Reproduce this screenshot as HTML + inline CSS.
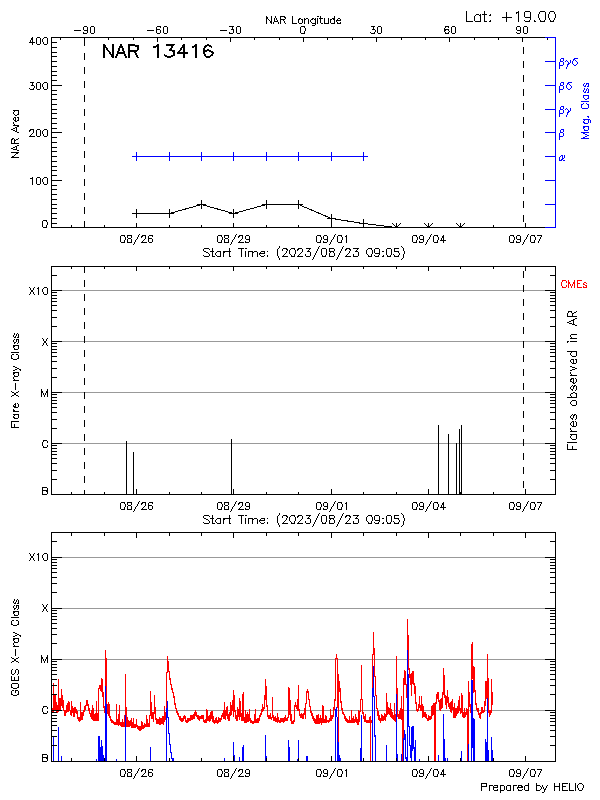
<!DOCTYPE html>
<html lang="en"><head><meta charset="utf-8"><title>NAR 13416</title>
<style>
html,body{margin:0;padding:0;background:#fff;}
body{width:600px;height:800px;overflow:hidden;font-family:"Liberation Sans",sans-serif;}
svg{display:block;shape-rendering:crispEdges;}
svg path,svg polyline{fill:none;stroke-width:1;}
svg text{fill:#000;fill-opacity:0;font-family:"Liberation Sans",sans-serif;}
</style></head><body>
<svg width="600" height="800" viewBox="0 0 600 800">
<rect width="600" height="800" fill="#fff"/>
<path d="M52 443.5H555M52 392.5H555M52 341.5H555M52 290.5H555M52 710.5H555M52 659.5H555M52 608.5H555M52 557.5H555" stroke="#999"/>
<path d="M52.5 708V713M53.5 683V712M54.5 694V711M55.5 694V711M56.5 702V713M57.5 705V713M58.5 679V712M59.5 698V711M60.5 698V711M61.5 689V706M62.5 695V708M63.5 700V711M64.5 710V716M65.5 710V716M66.5 705V713M67.5 703V712M68.5 701V712M69.5 702V711M70.5 710V715M71.5 701V716M72.5 706V713M73.5 708V717M74.5 707V717M75.5 707V713M76.5 709V714M77.5 711V719M78.5 717V721M79.5 717V722M80.5 702V721M81.5 712V720M82.5 712V720M83.5 710V716M84.5 706V712M85.5 705V710M86.5 700V706M87.5 700V706M88.5 704V711M89.5 708V714M90.5 713V717M91.5 710V719M92.5 705V720M93.5 708V721M94.5 714V721M95.5 713V721M96.5 701V721M97.5 713V721M98.5 688V721M99.5 685V689M100.5 685V691M101.5 678V692M102.5 679V697M103.5 692V708M104.5 706V713M105.5 650V713M106.5 658V714M107.5 704V714M108.5 702V716M109.5 704V718M110.5 716V721M111.5 719V723M112.5 720V723M113.5 721V724M114.5 722V725M115.5 722V725M116.5 704V725M117.5 719V725M118.5 714V726M119.5 705V725M120.5 722V726M121.5 722V727M122.5 719V727M123.5 722V727M124.5 715V727M125.5 674V727M126.5 707V727M127.5 717V727M128.5 720V727M129.5 721V727M130.5 720V726M131.5 718V728M132.5 722V728M133.5 718V728M134.5 724V728M135.5 724V728M136.5 719V727M137.5 725V729M138.5 726V730M139.5 726V731M140.5 726V731M141.5 721V730M142.5 722V729M143.5 725V729M144.5 723V728M145.5 724V727M146.5 715V727M147.5 719V727M148.5 723V727M149.5 715V727M150.5 691V716M151.5 702V719M152.5 712V719M153.5 712V722M154.5 695V714M155.5 707V720M156.5 718V724M157.5 719V724M158.5 719V724M159.5 717V725M160.5 718V725M161.5 718V724M162.5 716V724M163.5 716V725M164.5 706V722M165.5 712V720M166.5 672V718M167.5 656V673M168.5 661V672M169.5 671V680M170.5 678V685M171.5 684V690M172.5 688V693M173.5 692V698M174.5 696V705M175.5 703V709M176.5 708V713M177.5 711V715M178.5 713V717M179.5 716V720M180.5 716V721M181.5 718V722M182.5 718V722M183.5 716V721M184.5 715V719M185.5 716V722M186.5 720V723M187.5 718V723M188.5 718V722M189.5 718V721M190.5 715V721M191.5 715V720M192.5 715V720M193.5 714V719M194.5 712V719M195.5 710V716M196.5 712V717M197.5 715V719M198.5 715V720M199.5 716V721M200.5 716V719M201.5 715V719M202.5 715V719M203.5 715V722M204.5 720V723M205.5 719V723M206.5 709V723M207.5 710V721M208.5 716V721M209.5 715V722M210.5 712V721M211.5 711V719M212.5 711V722M213.5 716V723M214.5 720V724M215.5 718V723M216.5 717V723M217.5 720V724M218.5 717V723M219.5 718V722M220.5 718V722M221.5 715V720M222.5 713V717M223.5 710V719M224.5 702V719M225.5 710V720M226.5 707V716M227.5 706V719M228.5 714V721M229.5 712V721M230.5 702V716M231.5 705V715M232.5 700V711M233.5 690V717M234.5 695V712M235.5 710V719M236.5 715V721M237.5 707V721M238.5 709V717M239.5 698V720M240.5 701V717M241.5 713V721M242.5 694V721M243.5 692V721M244.5 717V723M245.5 710V723M246.5 714V723M247.5 712V722M248.5 714V722M249.5 709V721M250.5 718V723M251.5 720V723M252.5 721V724M253.5 721V724M254.5 714V723M255.5 709V723M256.5 719V723M257.5 718V723M258.5 718V723M259.5 715V721M260.5 713V717M261.5 709V715M262.5 704V712M263.5 707V711M264.5 695V709M265.5 679V700M266.5 686V707M267.5 705V717M268.5 715V719M269.5 715V719M270.5 713V719M271.5 717V720M272.5 697V718M273.5 715V721M274.5 717V721M275.5 716V722M276.5 718V722M277.5 713V723M278.5 717V722M279.5 720V723M280.5 718V723M281.5 718V722M282.5 718V722M283.5 718V723M284.5 717V722M285.5 715V721M286.5 718V721M287.5 717V721M288.5 687V718M289.5 688V715M290.5 700V721M291.5 714V724M292.5 721V724M293.5 720V724M294.5 705V722M295.5 702V707M296.5 705V709M297.5 699V711M298.5 685V711M299.5 709V716M300.5 714V718M301.5 713V718M302.5 714V719M303.5 713V719M304.5 708V715M305.5 703V719M306.5 691V704M307.5 689V693M308.5 691V700M309.5 699V707M310.5 706V713M311.5 711V716M312.5 713V719M313.5 716V721M314.5 718V723M315.5 719V724M316.5 715V724M317.5 715V724M318.5 714V724M319.5 718V724M320.5 715V723M321.5 718V725M322.5 705V723M323.5 706V723M324.5 719V723M325.5 715V723M326.5 716V723M327.5 720V722M328.5 720V723M329.5 718V722M330.5 709V721M331.5 715V721M332.5 715V719M333.5 707V717M334.5 699V710M335.5 658V701M336.5 654V659M337.5 658V708M338.5 674V743M339.5 681V692M340.5 688V703M341.5 701V710M342.5 708V714M343.5 712V715M344.5 714V719M345.5 716V721M346.5 718V722M347.5 719V723M348.5 720V723M349.5 716V723M350.5 720V723M351.5 710V723M352.5 718V723M353.5 716V723M354.5 719V723M355.5 714V722M356.5 717V723M357.5 719V725M358.5 710V725M359.5 711V722M360.5 699V712M361.5 665V700M362.5 699V714M363.5 712V719M364.5 716V722M365.5 714V722M366.5 720V723M367.5 720V723M368.5 720V723M369.5 717V723M370.5 716V762M371.5 720V723M372.5 654V721M373.5 632V655M374.5 648V677M375.5 676V696M376.5 695V709M377.5 708V716M378.5 711V720M379.5 715V721M380.5 718V723M381.5 714V721M382.5 715V721M383.5 716V721M384.5 713V720M385.5 714V721M386.5 693V717M387.5 702V715M388.5 707V714M389.5 708V715M390.5 703V717M391.5 709V718M392.5 712V719M393.5 715V720M394.5 703V721M395.5 714V722M396.5 656V717M397.5 688V717M398.5 714V719M399.5 711V719M400.5 708V719M401.5 696V720M402.5 709V762M403.5 678V762M404.5 670V685M405.5 671V685M406.5 684V698M407.5 619V685M408.5 635V670M409.5 668V678M410.5 674V685M411.5 673V696M412.5 671V684M413.5 671V685M414.5 683V694M415.5 686V704M416.5 702V711M417.5 709V712M418.5 704V711M419.5 696V708M420.5 705V711M421.5 696V711M422.5 704V718M423.5 706V717M424.5 712V717M425.5 712V718M426.5 714V719M427.5 718V721M428.5 715V721M429.5 716V720M430.5 716V720M431.5 706V719M432.5 705V716M433.5 703V715M434.5 703V762M435.5 702V762M436.5 694V704M437.5 692V699M438.5 692V702M439.5 700V710M440.5 699V711M441.5 698V709M442.5 692V708M443.5 668V695M444.5 675V698M445.5 695V705M446.5 696V709M447.5 690V703M448.5 697V707M449.5 703V709M450.5 702V712M451.5 701V713M452.5 699V710M453.5 707V718M454.5 703V718M455.5 708V718M456.5 708V716M457.5 706V714M458.5 700V713M459.5 696V711M460.5 708V714M461.5 693V713M462.5 695V717M463.5 712V718M464.5 708V718M465.5 712V717M466.5 708V715M467.5 709V762M468.5 681V762M469.5 692V707M470.5 704V713M471.5 644V705M472.5 642V679M473.5 666V693M474.5 667V692M475.5 690V705M476.5 703V710M477.5 708V712M478.5 708V715M479.5 713V718M480.5 712V719M481.5 707V714M482.5 707V713M483.5 710V713M484.5 701V712M485.5 681V706M486.5 681V699M487.5 654V699M488.5 678V713M489.5 710V717M490.5 710V715M491.5 679V713M492.5 692V705" stroke="#f00"/>
<path d="M53.5 736V762M58.5 727V762M61.5 756V762M96.5 759V762M98.5 736V762M99.5 736V762M100.5 747V762M101.5 740V762M102.5 746V762M103.5 755V762M105.5 686V762M106.5 704V762M116.5 759V762M125.5 715V762M150.5 747V762M166.5 708V762M167.5 701V718M168.5 717V734M169.5 733V745M170.5 744V753M171.5 752V759M172.5 758V762M173.5 758V762M224.5 758V762M233.5 742V762M234.5 755V762M239.5 757V762M242.5 747V762M243.5 745V762M265.5 735V762M266.5 756V762M288.5 740V762M289.5 747V762M297.5 759V762M298.5 740V762M306.5 756V762M307.5 756V762M335.5 709V762M336.5 707V717M337.5 717V762M338.5 742V762M339.5 755V762M340.5 758V762M360.5 748V762M361.5 715V762M372.5 688V762M373.5 666V697M374.5 696V737M375.5 735V762M386.5 745V762M396.5 694V762M397.5 754V762M401.5 754V762M403.5 738V762M404.5 730V740M405.5 734V759M406.5 757V762M407.5 650V762M408.5 674V727M409.5 726V746M410.5 745V758M411.5 727V762M412.5 726V751M413.5 726V749M414.5 747V762M415.5 740V762M419.5 759V762M438.5 755V762M443.5 714V762M444.5 739V762M445.5 758V762M447.5 758V762M461.5 751V762M468.5 744V762M471.5 680V762M472.5 680V748M473.5 718V762M474.5 719V762M485.5 739V762M486.5 742V762M487.5 698V762M488.5 750V762M491.5 737V762M492.5 750V762" stroke="#00f"/>
<path d="M51 37.5H556M51 227.5H556M51.5 37V228M51 227.5H62M51 223.5H57M51 218.5H57M51 213.5H57M51 208.5H57M51 204.5H57M51 199.5H57M51 194.5H57M51 189.5H57M51 185.5H57M51 180.5H62M51 175.5H57M51 170.5H57M51 166.5H57M51 161.5H57M51 156.5H57M51 151.5H57M51 147.5H57M51 142.5H57M51 137.5H57M51 132.5H62M51 128.5H57M51 123.5H57M51 118.5H57M51 113.5H57M51 109.5H57M51 104.5H57M51 99.5H57M51 94.5H57M51 90.5H57M51 85.5H62M51 80.5H57M51 75.5H57M51 71.5H57M51 66.5H57M51 61.5H57M51 56.5H57M51 52.5H57M51 47.5H57M51 42.5H57M51 37.5H62M60.5 37V40M84.5 37V42M108.5 37V40M133.5 37V40M157.5 37V42M181.5 37V40M206.5 37V40M230.5 37V42M254.5 37V40M279.5 37V40M303.5 37V42M327.5 37V40M352.5 37V40M376.5 37V42M401.5 37V40M425.5 37V40M449.5 37V42M474.5 37V40M498.5 37V40M522.5 37V42M547.5 37V40M71.5 225V228M104.5 225V228M136.5 223V228M169.5 225V228M201.5 225V228M233.5 223V228M266.5 225V228M298.5 225V228M331.5 223V228M363.5 225V228M396.5 225V228M428.5 223V228M460.5 225V228M493.5 225V228M525.5 223V228M84.5 39V46M84.5 53V60M84.5 67V74M84.5 81V88M84.5 95V102M84.5 109V116M84.5 123V130M84.5 137V144M84.5 151V158M84.5 165V172M84.5 179V186M84.5 193V200M84.5 207V214M84.5 221V228M523.5 47V54M523.5 61V68M523.5 75V82M523.5 89V96M523.5 103V110M523.5 117V124M523.5 131V138M523.5 145V152M523.5 159V166M523.5 173V180M523.5 187V194M523.5 201V208M523.5 215V222M132 213.5H141M136.5 209V218M165 213.5H174M169.5 209V218M197 204.5H206M201.5 200V209M229 213.5H238M233.5 209V218M262 204.5H271M266.5 200V209M294 204.5H303M298.5 200V209M327 218.5H336M331.5 214V223M359 223.5H368M363.5 219V228M396.5 223V228M395 226.5H396M397 226.5H398M394 225.5H395M398 225.5H399M393 224.5H394M399 224.5H400M392 223.5H393M400 223.5H401M395 226.5H398M428.5 223V228M427 226.5H428M429 226.5H430M426 225.5H427M430 225.5H431M425 224.5H426M431 224.5H432M424 223.5H425M432 223.5H433M427 226.5H430M460.5 223V228M459 226.5H460M461 226.5H462M458 225.5H459M462 225.5H463M457 224.5H458M463 224.5H464M456 223.5H457M464 223.5H465M459 226.5H462M51 266.5H556M51 494.5H556M51.5 266V495M555.5 266V495M51 494.5H62M545 494.5H556M51 479.5H57M550 479.5H556M51 470.5H57M550 470.5H556M51 463.5H57M550 463.5H556M51 458.5H57M550 458.5H556M51 454.5H57M550 454.5H556M51 451.5H57M550 451.5H556M51 448.5H57M550 448.5H556M51 445.5H57M550 445.5H556M51 443.5H62M545 443.5H556M51 428.5H57M550 428.5H556M51 419.5H57M550 419.5H556M51 412.5H57M550 412.5H556M51 407.5H57M550 407.5H556M51 403.5H57M550 403.5H556M51 400.5H57M550 400.5H556M51 397.5H57M550 397.5H556M51 394.5H57M550 394.5H556M51 392.5H62M545 392.5H556M51 377.5H57M550 377.5H556M51 368.5H57M550 368.5H556M51 361.5H57M550 361.5H556M51 356.5H57M550 356.5H556M51 352.5H57M550 352.5H556M51 349.5H57M550 349.5H556M51 346.5H57M550 346.5H556M51 343.5H57M550 343.5H556M51 341.5H62M545 341.5H556M51 326.5H57M550 326.5H556M51 317.5H57M550 317.5H556M51 310.5H57M550 310.5H556M51 305.5H57M550 305.5H556M51 301.5H57M550 301.5H556M51 298.5H57M550 298.5H556M51 295.5H57M550 295.5H556M51 292.5H57M550 292.5H556M51 290.5H62M545 290.5H556M51 275.5H57M550 275.5H556M51 266.5H57M550 266.5H556M71.5 492V495M71.5 266V269M104.5 492V495M104.5 266V269M136.5 489V495M136.5 266V271M169.5 492V495M169.5 266V269M201.5 492V495M201.5 266V269M233.5 489V495M233.5 266V271M266.5 492V495M266.5 266V269M298.5 492V495M298.5 266V269M331.5 489V495M331.5 266V271M363.5 492V495M363.5 266V269M396.5 492V495M396.5 266V269M428.5 489V495M428.5 266V271M460.5 492V495M460.5 266V269M493.5 492V495M493.5 266V269M525.5 489V495M525.5 266V271M84.5 266V273M84.5 280V287M84.5 294V301M84.5 308V315M84.5 322V329M84.5 336V343M84.5 350V357M84.5 364V371M84.5 378V385M84.5 392V399M84.5 406V413M84.5 420V427M84.5 434V441M84.5 448V455M84.5 462V469M84.5 476V483M84.5 490V495M523.5 271V278M523.5 285V292M523.5 299V306M523.5 313V320M523.5 327V334M523.5 341V348M523.5 355V362M523.5 369V376M523.5 383V390M523.5 397V404M523.5 411V418M523.5 425V432M523.5 439V446M523.5 453V460M523.5 467V474M523.5 481V488M126.5 441V495M133.5 452V495M231.5 439V495M438.5 425V495M448.5 434V495M456.5 443V495M459.5 429V495M461.5 425V495M460.5 492V495M51 532.5H556M51 761.5H556M51.5 532V762M555.5 532V762M51 761.5H62M545 761.5H556M51 745.5H57M550 745.5H556M51 736.5H57M550 736.5H556M51 730.5H57M550 730.5H556M51 725.5H57M550 725.5H556M51 721.5H57M550 721.5H556M51 718.5H57M550 718.5H556M51 715.5H57M550 715.5H556M51 712.5H57M550 712.5H556M51 710.5H62M545 710.5H556M51 694.5H57M550 694.5H556M51 685.5H57M550 685.5H556M51 679.5H57M550 679.5H556M51 674.5H57M550 674.5H556M51 670.5H57M550 670.5H556M51 667.5H57M550 667.5H556M51 664.5H57M550 664.5H556M51 661.5H57M550 661.5H556M51 659.5H62M545 659.5H556M51 643.5H57M550 643.5H556M51 634.5H57M550 634.5H556M51 628.5H57M550 628.5H556M51 623.5H57M550 623.5H556M51 619.5H57M550 619.5H556M51 616.5H57M550 616.5H556M51 613.5H57M550 613.5H556M51 610.5H57M550 610.5H556M51 608.5H62M545 608.5H556M51 592.5H57M550 592.5H556M51 583.5H57M550 583.5H556M51 577.5H57M550 577.5H556M51 572.5H57M550 572.5H556M51 568.5H57M550 568.5H556M51 565.5H57M550 565.5H556M51 562.5H57M550 562.5H556M51 559.5H57M550 559.5H556M51 557.5H62M545 557.5H556M51 541.5H57M550 541.5H556M51 532.5H57M550 532.5H556M71.5 758V762M71.5 532V536M104.5 758V762M104.5 532V536M136.5 756V762M136.5 532V538M169.5 758V762M169.5 532V536M201.5 758V762M201.5 532V536M233.5 756V762M233.5 532V538M266.5 758V762M266.5 532V536M298.5 758V762M298.5 532V536M331.5 756V762M331.5 532V538M363.5 758V762M363.5 532V536M396.5 758V762M396.5 532V536M428.5 756V762M428.5 532V538M460.5 758V762M460.5 532V536M493.5 758V762M493.5 532V536M525.5 756V762M525.5 532V538" stroke="#000"/>
<polyline fill="none" stroke="#000" points="136.5,213.5 169.5,213.5 201.5,204.5 233.5,213.5 266.5,204.5 298.5,204.5 331.5,218.5 363.5,223.5 396.5,227.5 428.5,227.5 460.5,227.5"/>
<path d="M555.5 37V228M545 227.5H556M545 204.5H556M545 180.5H556M545 156.5H556M545 132.5H556M545 109.5H556M545 85.5H556M545 61.5H556M545 37.5H556M132 156.5H368M136.5 152V161M169.5 152V161M201.5 152V161M233.5 152V161M266.5 152V161M298.5 152V161M331.5 152V161M363.5 152V161" stroke="#00f"/>
<path d="M84 26.5H87M91 26.5H94M83 27.5H84M87 27.5H88M90 27.5H91M94 27.5H95M83 28.5H84M87 28.5H88M90 28.5H91M94 28.5H95M83 29.5H84M87 29.5H88M90 29.5H91M94 29.5H95M74 30.5H81M84 30.5H88M90 30.5H91M94 30.5H95M87 31.5H88M90 31.5H91M94 31.5H95M83 32.5H84M87 32.5H88M90 32.5H91M94 32.5H95M83 33.5H87M91 33.5H94M157 26.5H161M164 26.5H167M156 27.5H157M160 27.5H161M163 27.5H164M167 27.5H168M156 28.5H157M163 28.5H164M167 28.5H168M156 29.5H160M163 29.5H164M167 29.5H168M147 30.5H154M156 30.5H157M160 30.5H161M163 30.5H164M167 30.5H168M156 31.5H157M160 31.5H161M163 31.5H164M167 31.5H168M156 32.5H157M160 32.5H161M163 32.5H164M167 32.5H168M157 33.5H160M164 33.5H167M229 26.5H234M237 26.5H240M232 27.5H233M236 27.5H237M240 27.5H241M232 28.5H233M236 28.5H237M240 28.5H241M231 29.5H234M236 29.5H237M240 29.5H241M220 30.5H227M233 30.5H234M236 30.5H237M240 30.5H241M233 31.5H234M236 31.5H237M240 31.5H241M229 32.5H230M233 32.5H234M236 32.5H237M240 32.5H241M229 33.5H233M237 33.5H240M301 26.5H305M300 27.5H301M304 27.5H305M300 28.5H301M305 28.5H306M300 29.5H301M305 29.5H306M300 30.5H301M305 30.5H306M300 31.5H301M304 31.5H305M300 32.5H301M304 32.5H305M301 33.5H305M371 26.5H375M378 26.5H381M373 27.5H374M377 27.5H378M381 27.5H382M373 28.5H374M377 28.5H378M381 28.5H382M372 29.5H375M377 29.5H378M381 29.5H382M375 30.5H376M377 30.5H378M381 30.5H382M375 31.5H376M377 31.5H378M381 31.5H382M370 32.5H371M374 32.5H375M377 32.5H378M381 32.5H382M371 33.5H375M378 33.5H381M445 26.5H449M452 26.5H455M445 27.5H446M448 27.5H449M451 27.5H452M455 27.5H456M444 28.5H445M451 28.5H452M455 28.5H456M444 29.5H449M451 29.5H452M455 29.5H456M444 30.5H446M448 30.5H449M451 30.5H452M455 30.5H456M444 31.5H445M449 31.5H450M451 31.5H452M455 31.5H456M445 32.5H446M448 32.5H449M451 32.5H452M455 32.5H456M445 33.5H449M452 33.5H455M517 26.5H520M524 26.5H527M516 27.5H517M520 27.5H521M523 27.5H524M527 27.5H528M516 28.5H517M520 28.5H521M523 28.5H524M527 28.5H528M516 29.5H517M520 29.5H521M523 29.5H524M527 29.5H528M517 30.5H521M523 30.5H524M527 30.5H528M520 31.5H521M523 31.5H524M527 31.5H528M516 32.5H517M520 32.5H521M523 32.5H524M527 32.5H528M517 33.5H520M524 33.5H527M43 220.5H47M42 221.5H43M46 221.5H47M42 222.5H43M47 222.5H48M42 223.5H43M47 223.5H48M42 224.5H43M47 224.5H48M42 225.5H43M46 225.5H47M42 226.5H43M46 226.5H47M43 227.5H47M32 177.5H33M37 177.5H40M44 177.5H47M30 178.5H33M36 178.5H37M40 178.5H41M43 178.5H44M47 178.5H48M32 179.5H33M36 179.5H37M40 179.5H41M42 179.5H43M47 179.5H48M32 180.5H33M36 180.5H37M40 180.5H41M42 180.5H43M47 180.5H48M32 181.5H33M36 181.5H37M40 181.5H41M42 181.5H43M47 181.5H48M32 182.5H33M36 182.5H37M40 182.5H41M43 182.5H44M47 182.5H48M32 183.5H33M36 183.5H37M40 183.5H41M43 183.5H44M47 183.5H48M32 184.5H33M37 184.5H40M44 184.5H47M30 129.5H34M37 129.5H40M44 129.5H47M29 130.5H31M33 130.5H34M36 130.5H37M40 130.5H41M43 130.5H44M47 130.5H48M29 131.5H30M33 131.5H34M36 131.5H37M40 131.5H41M42 131.5H43M47 131.5H48M33 132.5H34M36 132.5H37M40 132.5H41M42 132.5H43M47 132.5H48M32 133.5H33M36 133.5H37M40 133.5H41M42 133.5H43M47 133.5H48M31 134.5H32M36 134.5H37M40 134.5H41M43 134.5H44M47 134.5H48M30 135.5H31M36 135.5H37M40 135.5H41M43 135.5H44M47 135.5H48M29 136.5H35M37 136.5H40M44 136.5H47M30 82.5H34M37 82.5H40M44 82.5H47M32 83.5H33M36 83.5H37M40 83.5H41M43 83.5H44M47 83.5H48M32 84.5H33M36 84.5H37M40 84.5H41M42 84.5H43M47 84.5H48M31 85.5H34M36 85.5H37M40 85.5H41M42 85.5H43M47 85.5H48M34 86.5H35M36 86.5H37M40 86.5H41M42 86.5H43M47 86.5H48M34 87.5H35M36 87.5H37M40 87.5H41M43 87.5H44M47 87.5H48M29 88.5H30M33 88.5H34M36 88.5H37M40 88.5H41M43 88.5H44M47 88.5H48M30 89.5H34M37 89.5H40M44 89.5H47M32 37.5H33M37 37.5H40M44 37.5H47M31 38.5H33M36 38.5H37M40 38.5H41M43 38.5H44M47 38.5H48M31 39.5H33M36 39.5H37M40 39.5H41M42 39.5H43M47 39.5H48M30 40.5H31M32 40.5H33M36 40.5H37M40 40.5H41M42 40.5H43M47 40.5H48M30 41.5H31M32 41.5H33M36 41.5H37M40 41.5H41M42 41.5H43M47 41.5H48M29 42.5H35M36 42.5H37M40 42.5H41M43 42.5H44M47 42.5H48M32 43.5H33M36 43.5H37M40 43.5H41M43 43.5H44M47 43.5H48M32 44.5H33M37 44.5H40M44 44.5H47M266 16.5H267M271 16.5H272M275 16.5H276M280 16.5H285M292 16.5H293M317 16.5H319M320 16.5H321M334 16.5H335M266 17.5H268M271 17.5H272M275 17.5H276M280 17.5H281M284 17.5H286M292 17.5H293M320 17.5H321M334 17.5H335M266 18.5H268M271 18.5H272M274 18.5H275M276 18.5H277M280 18.5H281M285 18.5H286M292 18.5H293M299 18.5H301M304 18.5H305M306 18.5H308M312 18.5H314M315 18.5H316M317 18.5H318M319 18.5H323M324 18.5H325M328 18.5H329M332 18.5H335M338 18.5H340M266 19.5H267M268 19.5H269M271 19.5H272M274 19.5H275M276 19.5H277M280 19.5H285M292 19.5H293M298 19.5H300M301 19.5H303M304 19.5H306M308 19.5H309M311 19.5H313M314 19.5H316M317 19.5H318M320 19.5H321M324 19.5H325M328 19.5H329M330 19.5H332M333 19.5H335M337 19.5H338M340 19.5H341M266 20.5H267M269 20.5H270M271 20.5H272M274 20.5H275M277 20.5H278M280 20.5H281M283 20.5H284M292 20.5H293M298 20.5H299M302 20.5H303M304 20.5H305M308 20.5H309M310 20.5H311M315 20.5H316M317 20.5H318M320 20.5H321M324 20.5H325M328 20.5H329M330 20.5H331M334 20.5H335M336 20.5H341M266 21.5H267M270 21.5H272M274 21.5H278M280 21.5H281M284 21.5H285M292 21.5H293M298 21.5H299M302 21.5H303M304 21.5H305M308 21.5H309M310 21.5H311M315 21.5H316M317 21.5H318M320 21.5H321M324 21.5H325M328 21.5H329M330 21.5H331M334 21.5H335M336 21.5H337M266 22.5H267M270 22.5H272M273 22.5H274M278 22.5H279M280 22.5H281M284 22.5H285M292 22.5H293M298 22.5H299M302 22.5H303M304 22.5H305M308 22.5H309M311 22.5H312M315 22.5H316M317 22.5H318M320 22.5H321M324 22.5H325M328 22.5H329M330 22.5H331M334 22.5H335M337 22.5H338M340 22.5H341M266 23.5H267M271 23.5H272M273 23.5H274M278 23.5H279M280 23.5H281M285 23.5H286M292 23.5H297M299 23.5H302M304 23.5H305M308 23.5H309M312 23.5H316M317 23.5H318M321 23.5H323M324 23.5H329M331 23.5H335M337 23.5H341M315 24.5H316M312 25.5H315M466 11.5H467M484 11.5H485M518 11.5H519M525 11.5H530M540 11.5H545M550 11.5H554M466 12.5H467M484 12.5H485M506 12.5H507M516 12.5H519M524 12.5H525M530 12.5H531M539 12.5H540M545 12.5H546M549 12.5H550M554 12.5H555M466 13.5H467M484 13.5H485M506 13.5H507M516 13.5H517M518 13.5H519M524 13.5H525M530 13.5H531M539 13.5H540M545 13.5H546M549 13.5H550M554 13.5H555M466 14.5H467M476 14.5H479M480 14.5H481M482 14.5H487M490 14.5H491M506 14.5H507M518 14.5H519M524 14.5H525M530 14.5H531M538 14.5H539M545 14.5H546M548 14.5H549M555 14.5H556M466 15.5H467M475 15.5H476M479 15.5H481M484 15.5H485M489 15.5H491M506 15.5H507M518 15.5H519M524 15.5H525M530 15.5H531M538 15.5H539M545 15.5H546M548 15.5H549M555 15.5H556M466 16.5H467M474 16.5H475M480 16.5H481M484 16.5H485M506 16.5H507M518 16.5H519M524 16.5H525M530 16.5H531M538 16.5H539M545 16.5H546M548 16.5H549M555 16.5H556M466 17.5H467M474 17.5H475M480 17.5H481M484 17.5H485M502 17.5H512M518 17.5H519M525 17.5H531M538 17.5H539M545 17.5H546M548 17.5H549M555 17.5H556M466 18.5H467M474 18.5H475M480 18.5H481M484 18.5H485M506 18.5H507M518 18.5H519M530 18.5H531M539 18.5H540M545 18.5H546M549 18.5H550M554 18.5H555M466 19.5H467M474 19.5H475M480 19.5H481M484 19.5H485M506 19.5H507M518 19.5H519M530 19.5H531M539 19.5H540M545 19.5H546M549 19.5H550M554 19.5H555M466 20.5H467M474 20.5H475M480 20.5H481M484 20.5H485M490 20.5H491M506 20.5H507M518 20.5H519M524 20.5H525M529 20.5H530M534 20.5H535M540 20.5H541M544 20.5H545M550 20.5H551M553 20.5H554M466 21.5H473M475 21.5H481M484 21.5H487M489 21.5H491M506 21.5H507M518 21.5H519M525 21.5H530M534 21.5H536M540 21.5H545M550 21.5H554M103 44.5H105M112 44.5H114M120 44.5H122M128 44.5H135M157 44.5H159M166 44.5H175M183 44.5H185M195 44.5H197M207 44.5H209M103 45.5H106M112 45.5H114M120 45.5H122M128 45.5H139M156 45.5H159M166 45.5H174M182 45.5H185M194 45.5H197M205 45.5H211M103 46.5H106M112 46.5H114M119 46.5H123M128 46.5H130M135 46.5H139M153 46.5H159M171 46.5H173M182 46.5H185M192 46.5H197M204 46.5H207M209 46.5H212M103 47.5H107M112 47.5H114M119 47.5H123M128 47.5H130M137 47.5H139M153 47.5H156M157 47.5H159M171 47.5H173M181 47.5H185M192 47.5H194M195 47.5H197M204 47.5H206M211 47.5H212M103 48.5H105M106 48.5H108M112 48.5H114M118 48.5H120M122 48.5H124M128 48.5H130M137 48.5H139M157 48.5H159M170 48.5H172M180 48.5H182M183 48.5H185M195 48.5H197M203 48.5H205M103 49.5H105M106 49.5H108M112 49.5H114M118 49.5H120M122 49.5H124M128 49.5H130M137 49.5H139M157 49.5H159M169 49.5H172M180 49.5H182M183 49.5H185M195 49.5H197M203 49.5H205M207 49.5H209M103 50.5H105M107 50.5H109M112 50.5H114M118 50.5H120M122 50.5H124M128 50.5H138M157 50.5H159M169 50.5H175M179 50.5H181M183 50.5H185M195 50.5H197M203 50.5H211M103 51.5H105M108 51.5H110M112 51.5H114M117 51.5H119M123 51.5H125M128 51.5H137M157 51.5H159M172 51.5H175M178 51.5H180M183 51.5H185M195 51.5H197M203 51.5H207M209 51.5H213M103 52.5H105M109 52.5H111M112 52.5H114M117 52.5H125M128 52.5H130M134 52.5H136M157 52.5H159M173 52.5H175M177 52.5H188M195 52.5H197M203 52.5H205M211 52.5H214M103 53.5H105M109 53.5H111M112 53.5H114M117 53.5H125M128 53.5H130M135 53.5H137M157 53.5H159M173 53.5H175M177 53.5H188M195 53.5H197M203 53.5H205M212 53.5H214M103 54.5H105M110 54.5H114M116 54.5H118M124 54.5H126M128 54.5H130M135 54.5H137M157 54.5H159M164 54.5H165M173 54.5H175M183 54.5H185M195 54.5H197M204 54.5H206M211 54.5H213M103 55.5H105M111 55.5H114M116 55.5H118M124 55.5H126M128 55.5H130M136 55.5H138M157 55.5H159M164 55.5H167M171 55.5H175M183 55.5H185M195 55.5H197M204 55.5H206M210 55.5H213M103 56.5H105M111 56.5H114M115 56.5H117M125 56.5H127M128 56.5H130M136 56.5H138M157 56.5H159M165 56.5H173M183 56.5H185M195 56.5H197M205 56.5H211M103 57.5H105M112 57.5H114M115 57.5H117M125 57.5H127M128 57.5H130M137 57.5H139M157 57.5H159M167 57.5H171M183 57.5H185M195 57.5H197M206 57.5H210M13 110.5H19M14 111.5H15M18 111.5H19M13 112.5H14M18 112.5H19M13 113.5H14M18 113.5H19M14 114.5H15M17 114.5H19M15 115.5H17M14 117.5H16M17 117.5H19M13 118.5H14M15 118.5H16M18 118.5H19M13 119.5H14M15 119.5H16M18 119.5H19M14 120.5H16M17 120.5H19M15 121.5H17M13 122.5H14M13 123.5H14M14 124.5H15M13 125.5H19M17 126.5H19M15 127.5H17M13 128.5H15M16 128.5H17M11 129.5H13M16 129.5H17M13 130.5H15M16 130.5H17M15 131.5H17M17 132.5H19M12 138.5H14M18 138.5H19M11 139.5H13M14 139.5H15M16 139.5H18M11 140.5H12M14 140.5H16M11 141.5H12M14 141.5H15M11 142.5H12M14 142.5H15M11 143.5H19M17 145.5H19M15 146.5H17M13 147.5H15M16 147.5H17M11 148.5H13M16 148.5H17M13 149.5H17M17 150.5H19M11 152.5H19M16 153.5H18M15 154.5H16M14 155.5H15M12 156.5H14M11 157.5H19M139 234.5H140M121 235.5H125M127 235.5H132M138 235.5H139M142 235.5H146M149 235.5H153M120 236.5H121M124 236.5H125M127 236.5H128M131 236.5H132M138 236.5H139M141 236.5H143M145 236.5H146M148 236.5H149M152 236.5H153M120 237.5H121M125 237.5H126M127 237.5H128M131 237.5H132M137 237.5H138M141 237.5H142M145 237.5H146M148 237.5H149M120 238.5H121M125 238.5H126M128 238.5H131M137 238.5H138M145 238.5H146M148 238.5H152M120 239.5H121M125 239.5H126M127 239.5H128M131 239.5H132M136 239.5H137M144 239.5H145M148 239.5H149M152 239.5H153M120 240.5H121M124 240.5H125M127 240.5H128M131 240.5H132M135 240.5H136M143 240.5H144M148 240.5H149M152 240.5H153M120 241.5H121M124 241.5H125M127 241.5H128M131 241.5H132M135 241.5H136M142 241.5H143M148 241.5H149M152 241.5H153M121 242.5H125M127 242.5H132M134 242.5H135M141 242.5H147M149 242.5H152M134 243.5H135M133 244.5H134M236 234.5H237M218 235.5H222M224 235.5H229M235 235.5H236M239 235.5H243M246 235.5H249M217 236.5H218M221 236.5H222M224 236.5H225M228 236.5H229M235 236.5H236M238 236.5H240M242 236.5H243M245 236.5H246M249 236.5H250M217 237.5H218M222 237.5H223M224 237.5H225M228 237.5H229M234 237.5H235M238 237.5H239M242 237.5H243M245 237.5H246M249 237.5H250M217 238.5H218M222 238.5H223M225 238.5H228M234 238.5H235M242 238.5H243M245 238.5H246M249 238.5H250M217 239.5H218M222 239.5H223M224 239.5H225M228 239.5H229M233 239.5H234M241 239.5H242M246 239.5H250M217 240.5H218M221 240.5H222M224 240.5H225M228 240.5H229M232 240.5H233M240 240.5H241M249 240.5H250M217 241.5H218M221 241.5H222M224 241.5H225M228 241.5H229M232 241.5H233M239 241.5H240M245 241.5H246M249 241.5H250M218 242.5H222M224 242.5H229M231 242.5H232M238 242.5H244M245 242.5H249M231 243.5H232M230 244.5H231M335 234.5H336M317 235.5H321M324 235.5H327M334 235.5H335M338 235.5H342M346 235.5H347M316 236.5H317M320 236.5H321M323 236.5H324M327 236.5H328M334 236.5H335M337 236.5H338M341 236.5H342M345 236.5H347M316 237.5H317M321 237.5H322M323 237.5H324M327 237.5H328M333 237.5H334M337 237.5H338M342 237.5H343M346 237.5H347M316 238.5H317M321 238.5H322M323 238.5H324M327 238.5H328M333 238.5H334M337 238.5H338M342 238.5H343M346 238.5H347M316 239.5H317M321 239.5H322M324 239.5H328M332 239.5H333M337 239.5H338M342 239.5H343M346 239.5H347M316 240.5H317M320 240.5H321M327 240.5H328M331 240.5H332M337 240.5H338M341 240.5H342M346 240.5H347M316 241.5H317M320 241.5H321M323 241.5H324M327 241.5H328M331 241.5H332M337 241.5H338M341 241.5H342M346 241.5H347M317 242.5H321M323 242.5H327M330 242.5H331M338 242.5H342M346 242.5H347M330 243.5H331M329 244.5H330M431 234.5H432M413 235.5H417M420 235.5H423M430 235.5H431M434 235.5H438M443 235.5H444M412 236.5H413M416 236.5H417M419 236.5H420M423 236.5H424M430 236.5H431M433 236.5H434M437 236.5H438M442 236.5H444M412 237.5H413M417 237.5H418M419 237.5H420M423 237.5H424M429 237.5H430M433 237.5H434M438 237.5H439M442 237.5H444M412 238.5H413M417 238.5H418M419 238.5H420M423 238.5H424M429 238.5H430M433 238.5H434M438 238.5H439M441 238.5H442M443 238.5H444M412 239.5H413M417 239.5H418M420 239.5H424M428 239.5H429M433 239.5H434M438 239.5H439M441 239.5H442M443 239.5H444M412 240.5H413M416 240.5H417M423 240.5H424M427 240.5H428M433 240.5H434M437 240.5H438M440 240.5H446M412 241.5H413M416 241.5H417M419 241.5H420M423 241.5H424M427 241.5H428M433 241.5H434M437 241.5H438M443 241.5H444M413 242.5H417M419 242.5H423M426 242.5H427M434 242.5H438M443 242.5H444M426 243.5H427M425 244.5H426M528 234.5H529M510 235.5H514M517 235.5H520M527 235.5H528M531 235.5H535M537 235.5H542M509 236.5H510M513 236.5H514M516 236.5H517M520 236.5H521M527 236.5H528M530 236.5H531M534 236.5H535M541 236.5H542M509 237.5H510M514 237.5H515M516 237.5H517M520 237.5H521M526 237.5H527M530 237.5H531M535 237.5H536M540 237.5H541M509 238.5H510M514 238.5H515M516 238.5H517M520 238.5H521M526 238.5H527M530 238.5H531M535 238.5H536M540 238.5H541M509 239.5H510M514 239.5H515M517 239.5H521M525 239.5H526M530 239.5H531M535 239.5H536M539 239.5H540M509 240.5H510M513 240.5H514M520 240.5H521M524 240.5H525M530 240.5H531M534 240.5H535M539 240.5H540M509 241.5H510M513 241.5H514M516 241.5H517M520 241.5H521M524 241.5H525M530 241.5H531M534 241.5H535M538 241.5H539M510 242.5H514M516 242.5H520M523 242.5H524M531 242.5H535M538 242.5H539M523 243.5H524M522 244.5H523M279 246.5H280M319 246.5H320M343 246.5H344M401 246.5H402M279 247.5H280M318 247.5H319M342 247.5H343M402 247.5H403M204 248.5H209M212 248.5H213M229 248.5H230M238 248.5H244M245 248.5H247M278 248.5H279M283 248.5H287M291 248.5H295M298 248.5H302M306 248.5H311M318 248.5H319M322 248.5H326M329 248.5H334M342 248.5H343M346 248.5H350M353 248.5H359M368 248.5H372M375 248.5H379M387 248.5H391M394 248.5H399M403 248.5H404M203 249.5H204M209 249.5H210M212 249.5H213M229 249.5H230M241 249.5H242M277 249.5H278M282 249.5H283M286 249.5H288M290 249.5H291M294 249.5H295M297 249.5H299M302 249.5H303M309 249.5H310M317 249.5H318M321 249.5H322M326 249.5H327M329 249.5H330M334 249.5H335M341 249.5H342M345 249.5H347M349 249.5H351M357 249.5H358M367 249.5H368M371 249.5H372M374 249.5H375M379 249.5H380M386 249.5H387M391 249.5H392M394 249.5H395M403 249.5H404M203 250.5H204M212 250.5H213M229 250.5H230M241 250.5H242M277 250.5H278M282 250.5H283M287 250.5H288M289 250.5H290M295 250.5H296M297 250.5H298M302 250.5H303M308 250.5H309M317 250.5H318M321 250.5H322M326 250.5H327M329 250.5H330M334 250.5H335M341 250.5H342M345 250.5H346M350 250.5H351M356 250.5H357M366 250.5H367M372 250.5H373M374 250.5H375M379 250.5H380M386 250.5H387M391 250.5H392M394 250.5H395M403 250.5H404M204 251.5H206M210 251.5H214M217 251.5H221M223 251.5H231M241 251.5H242M245 251.5H246M248 251.5H253M254 251.5H257M261 251.5H265M267 251.5H268M277 251.5H278M286 251.5H287M289 251.5H290M295 251.5H296M302 251.5H303M307 251.5H310M316 251.5H317M321 251.5H322M326 251.5H327M329 251.5H334M340 251.5H341M349 251.5H350M355 251.5H358M366 251.5H367M372 251.5H373M374 251.5H375M379 251.5H380M382 251.5H384M386 251.5H387M391 251.5H392M394 251.5H399M404 251.5H405M206 252.5H208M212 252.5H213M216 252.5H217M220 252.5H221M223 252.5H225M229 252.5H230M241 252.5H242M245 252.5H246M248 252.5H249M252 252.5H254M257 252.5H258M260 252.5H261M264 252.5H265M277 252.5H278M286 252.5H287M289 252.5H290M295 252.5H296M301 252.5H302M310 252.5H311M316 252.5H317M321 252.5H322M326 252.5H327M330 252.5H331M333 252.5H334M340 252.5H341M349 252.5H350M358 252.5H359M366 252.5H367M372 252.5H373M374 252.5H375M379 252.5H380M386 252.5H387M391 252.5H392M398 252.5H399M404 252.5H405M208 253.5H209M212 253.5H213M215 253.5H216M220 253.5H221M223 253.5H224M229 253.5H230M241 253.5H242M245 253.5H246M248 253.5H249M252 253.5H253M257 253.5H258M259 253.5H265M277 253.5H278M285 253.5H286M289 253.5H290M295 253.5H296M300 253.5H301M310 253.5H311M315 253.5H316M321 253.5H322M326 253.5H327M329 253.5H330M334 253.5H335M339 253.5H340M348 253.5H349M358 253.5H359M366 253.5H367M372 253.5H373M375 253.5H380M386 253.5H387M391 253.5H392M399 253.5H400M404 253.5H405M209 254.5H210M212 254.5H213M215 254.5H216M220 254.5H221M223 254.5H224M229 254.5H230M241 254.5H242M245 254.5H246M248 254.5H249M252 254.5H253M257 254.5H258M259 254.5H260M277 254.5H278M284 254.5H285M290 254.5H291M294 254.5H295M299 254.5H300M305 254.5H306M310 254.5H311M315 254.5H316M321 254.5H322M326 254.5H327M329 254.5H330M334 254.5H335M339 254.5H340M347 254.5H348M353 254.5H354M358 254.5H359M367 254.5H368M371 254.5H372M379 254.5H380M386 254.5H387M391 254.5H392M393 254.5H394M399 254.5H400M403 254.5H404M203 255.5H204M209 255.5H210M212 255.5H213M216 255.5H217M220 255.5H221M223 255.5H224M229 255.5H230M241 255.5H242M245 255.5H246M248 255.5H249M252 255.5H253M257 255.5H258M260 255.5H261M264 255.5H265M267 255.5H268M277 255.5H278M283 255.5H284M291 255.5H292M294 255.5H295M298 255.5H299M305 255.5H306M310 255.5H311M314 255.5H315M322 255.5H323M325 255.5H326M329 255.5H330M334 255.5H335M338 255.5H339M346 255.5H347M353 255.5H354M358 255.5H359M368 255.5H369M371 255.5H372M374 255.5H375M378 255.5H379M383 255.5H384M387 255.5H388M390 255.5H391M394 255.5H395M398 255.5H399M403 255.5H404M204 256.5H209M212 256.5H215M217 256.5H221M223 256.5H224M229 256.5H231M241 256.5H242M245 256.5H246M248 256.5H249M252 256.5H253M257 256.5H258M261 256.5H264M267 256.5H268M278 256.5H279M282 256.5H288M291 256.5H295M297 256.5H303M306 256.5H310M314 256.5H315M322 256.5H326M329 256.5H334M338 256.5H339M345 256.5H351M353 256.5H358M368 256.5H372M375 256.5H379M382 256.5H384M387 256.5H391M394 256.5H399M403 256.5H404M278 257.5H279M313 257.5H314M337 257.5H338M403 257.5H404M279 258.5H280M313 258.5H314M337 258.5H338M402 258.5H403M279 259.5H280M312 259.5H313M336 259.5H337M401 259.5H402M42 487.5H47M42 488.5H43M47 488.5H48M42 489.5H43M47 489.5H48M42 490.5H48M42 491.5H43M46 491.5H48M42 492.5H43M47 492.5H48M42 493.5H43M47 493.5H48M42 494.5H47M43 440.5H47M43 441.5H44M47 441.5H48M42 442.5H43M47 442.5H48M42 443.5H43M42 444.5H43M42 445.5H43M47 445.5H48M43 446.5H44M47 446.5H48M43 447.5H47M41 389.5H42M47 389.5H48M41 390.5H42M47 390.5H48M41 391.5H43M46 391.5H48M41 392.5H43M46 392.5H48M41 393.5H42M43 393.5H44M45 393.5H46M47 393.5H48M41 394.5H42M43 394.5H44M45 394.5H46M47 394.5H48M41 395.5H42M44 395.5H45M47 395.5H48M41 396.5H42M44 396.5H45M47 396.5H48M42 338.5H43M47 338.5H48M43 339.5H44M46 339.5H47M43 340.5H44M46 340.5H47M44 341.5H46M44 342.5H46M43 343.5H44M46 343.5H47M43 344.5H44M46 344.5H47M42 345.5H43M47 345.5H48M29 287.5H30M34 287.5H35M38 287.5H39M44 287.5H47M30 288.5H31M33 288.5H34M37 288.5H39M43 288.5H44M47 288.5H48M30 289.5H31M33 289.5H34M38 289.5H39M42 289.5H43M47 289.5H48M31 290.5H33M38 290.5H39M42 290.5H43M47 290.5H48M31 291.5H33M38 291.5H39M42 291.5H43M47 291.5H48M30 292.5H31M33 292.5H34M38 292.5H39M43 292.5H44M47 292.5H48M30 293.5H31M33 293.5H34M38 293.5H39M43 293.5H44M47 293.5H48M29 294.5H30M34 294.5H35M38 294.5H39M44 294.5H47M139 501.5H140M121 502.5H125M127 502.5H132M138 502.5H139M142 502.5H146M149 502.5H153M120 503.5H121M124 503.5H125M127 503.5H128M131 503.5H132M138 503.5H139M141 503.5H143M145 503.5H146M148 503.5H149M152 503.5H153M120 504.5H121M125 504.5H126M127 504.5H128M131 504.5H132M137 504.5H138M141 504.5H142M145 504.5H146M148 504.5H149M120 505.5H121M125 505.5H126M128 505.5H131M137 505.5H138M145 505.5H146M148 505.5H152M120 506.5H121M125 506.5H126M127 506.5H128M131 506.5H132M136 506.5H137M144 506.5H145M148 506.5H149M152 506.5H153M120 507.5H121M124 507.5H125M127 507.5H128M131 507.5H132M135 507.5H136M143 507.5H144M148 507.5H149M152 507.5H153M120 508.5H121M124 508.5H125M127 508.5H128M131 508.5H132M135 508.5H136M142 508.5H143M148 508.5H149M152 508.5H153M121 509.5H125M127 509.5H132M134 509.5H135M141 509.5H147M149 509.5H152M134 510.5H135M133 511.5H134M236 501.5H237M218 502.5H222M224 502.5H229M235 502.5H236M239 502.5H243M246 502.5H249M217 503.5H218M221 503.5H222M224 503.5H225M228 503.5H229M235 503.5H236M238 503.5H240M242 503.5H243M245 503.5H246M249 503.5H250M217 504.5H218M222 504.5H223M224 504.5H225M228 504.5H229M234 504.5H235M238 504.5H239M242 504.5H243M245 504.5H246M249 504.5H250M217 505.5H218M222 505.5H223M225 505.5H228M234 505.5H235M242 505.5H243M245 505.5H246M249 505.5H250M217 506.5H218M222 506.5H223M224 506.5H225M228 506.5H229M233 506.5H234M241 506.5H242M246 506.5H250M217 507.5H218M221 507.5H222M224 507.5H225M228 507.5H229M232 507.5H233M240 507.5H241M249 507.5H250M217 508.5H218M221 508.5H222M224 508.5H225M228 508.5H229M232 508.5H233M239 508.5H240M245 508.5H246M249 508.5H250M218 509.5H222M224 509.5H229M231 509.5H232M238 509.5H244M245 509.5H249M231 510.5H232M230 511.5H231M335 501.5H336M317 502.5H321M324 502.5H327M334 502.5H335M338 502.5H342M346 502.5H347M316 503.5H317M320 503.5H321M323 503.5H324M327 503.5H328M334 503.5H335M337 503.5H338M341 503.5H342M345 503.5H347M316 504.5H317M321 504.5H322M323 504.5H324M327 504.5H328M333 504.5H334M337 504.5H338M342 504.5H343M346 504.5H347M316 505.5H317M321 505.5H322M323 505.5H324M327 505.5H328M333 505.5H334M337 505.5H338M342 505.5H343M346 505.5H347M316 506.5H317M321 506.5H322M324 506.5H328M332 506.5H333M337 506.5H338M342 506.5H343M346 506.5H347M316 507.5H317M320 507.5H321M327 507.5H328M331 507.5H332M337 507.5H338M341 507.5H342M346 507.5H347M316 508.5H317M320 508.5H321M323 508.5H324M327 508.5H328M331 508.5H332M337 508.5H338M341 508.5H342M346 508.5H347M317 509.5H321M323 509.5H327M330 509.5H331M338 509.5H342M346 509.5H347M330 510.5H331M329 511.5H330M431 501.5H432M413 502.5H417M420 502.5H423M430 502.5H431M434 502.5H438M443 502.5H444M412 503.5H413M416 503.5H417M419 503.5H420M423 503.5H424M430 503.5H431M433 503.5H434M437 503.5H438M442 503.5H444M412 504.5H413M417 504.5H418M419 504.5H420M423 504.5H424M429 504.5H430M433 504.5H434M438 504.5H439M442 504.5H444M412 505.5H413M417 505.5H418M419 505.5H420M423 505.5H424M429 505.5H430M433 505.5H434M438 505.5H439M441 505.5H442M443 505.5H444M412 506.5H413M417 506.5H418M420 506.5H424M428 506.5H429M433 506.5H434M438 506.5H439M441 506.5H442M443 506.5H444M412 507.5H413M416 507.5H417M423 507.5H424M427 507.5H428M433 507.5H434M437 507.5H438M440 507.5H446M412 508.5H413M416 508.5H417M419 508.5H420M423 508.5H424M427 508.5H428M433 508.5H434M437 508.5H438M443 508.5H444M413 509.5H417M419 509.5H423M426 509.5H427M434 509.5H438M443 509.5H444M426 510.5H427M425 511.5H426M528 501.5H529M510 502.5H514M517 502.5H520M527 502.5H528M531 502.5H535M537 502.5H542M509 503.5H510M513 503.5H514M516 503.5H517M520 503.5H521M527 503.5H528M530 503.5H531M534 503.5H535M541 503.5H542M509 504.5H510M514 504.5H515M516 504.5H517M520 504.5H521M526 504.5H527M530 504.5H531M535 504.5H536M540 504.5H541M509 505.5H510M514 505.5H515M516 505.5H517M520 505.5H521M526 505.5H527M530 505.5H531M535 505.5H536M540 505.5H541M509 506.5H510M514 506.5H515M517 506.5H521M525 506.5H526M530 506.5H531M535 506.5H536M539 506.5H540M509 507.5H510M513 507.5H514M520 507.5H521M524 507.5H525M530 507.5H531M534 507.5H535M539 507.5H540M509 508.5H510M513 508.5H514M516 508.5H517M520 508.5H521M524 508.5H525M530 508.5H531M534 508.5H535M538 508.5H539M510 509.5H514M516 509.5H520M523 509.5H524M531 509.5H535M538 509.5H539M523 510.5H524M522 511.5H523M279 513.5H280M319 513.5H320M343 513.5H344M401 513.5H402M279 514.5H280M318 514.5H319M342 514.5H343M402 514.5H403M204 515.5H209M212 515.5H213M229 515.5H230M238 515.5H244M245 515.5H247M278 515.5H279M283 515.5H287M291 515.5H295M298 515.5H302M306 515.5H311M318 515.5H319M322 515.5H326M329 515.5H334M342 515.5H343M346 515.5H350M353 515.5H359M368 515.5H372M375 515.5H379M387 515.5H391M394 515.5H399M403 515.5H404M203 516.5H204M209 516.5H210M212 516.5H213M229 516.5H230M241 516.5H242M277 516.5H278M282 516.5H283M286 516.5H288M290 516.5H291M294 516.5H295M297 516.5H299M302 516.5H303M309 516.5H310M317 516.5H318M321 516.5H322M326 516.5H327M329 516.5H330M334 516.5H335M341 516.5H342M345 516.5H347M349 516.5H351M357 516.5H358M367 516.5H368M371 516.5H372M374 516.5H375M379 516.5H380M386 516.5H387M391 516.5H392M394 516.5H395M403 516.5H404M203 517.5H204M212 517.5H213M229 517.5H230M241 517.5H242M277 517.5H278M282 517.5H283M287 517.5H288M289 517.5H290M295 517.5H296M297 517.5H298M302 517.5H303M308 517.5H309M317 517.5H318M321 517.5H322M326 517.5H327M329 517.5H330M334 517.5H335M341 517.5H342M345 517.5H346M350 517.5H351M356 517.5H357M366 517.5H367M372 517.5H373M374 517.5H375M379 517.5H380M386 517.5H387M391 517.5H392M394 517.5H395M403 517.5H404M204 518.5H206M210 518.5H214M217 518.5H221M223 518.5H231M241 518.5H242M245 518.5H246M248 518.5H253M254 518.5H257M261 518.5H265M267 518.5H268M277 518.5H278M286 518.5H287M289 518.5H290M295 518.5H296M302 518.5H303M307 518.5H310M316 518.5H317M321 518.5H322M326 518.5H327M329 518.5H334M340 518.5H341M349 518.5H350M355 518.5H358M366 518.5H367M372 518.5H373M374 518.5H375M379 518.5H380M382 518.5H384M386 518.5H387M391 518.5H392M394 518.5H399M404 518.5H405M206 519.5H208M212 519.5H213M216 519.5H217M220 519.5H221M223 519.5H225M229 519.5H230M241 519.5H242M245 519.5H246M248 519.5H249M252 519.5H254M257 519.5H258M260 519.5H261M264 519.5H265M277 519.5H278M286 519.5H287M289 519.5H290M295 519.5H296M301 519.5H302M310 519.5H311M316 519.5H317M321 519.5H322M326 519.5H327M330 519.5H331M333 519.5H334M340 519.5H341M349 519.5H350M358 519.5H359M366 519.5H367M372 519.5H373M374 519.5H375M379 519.5H380M386 519.5H387M391 519.5H392M398 519.5H399M404 519.5H405M208 520.5H209M212 520.5H213M215 520.5H216M220 520.5H221M223 520.5H224M229 520.5H230M241 520.5H242M245 520.5H246M248 520.5H249M252 520.5H253M257 520.5H258M259 520.5H265M277 520.5H278M285 520.5H286M289 520.5H290M295 520.5H296M300 520.5H301M310 520.5H311M315 520.5H316M321 520.5H322M326 520.5H327M329 520.5H330M334 520.5H335M339 520.5H340M348 520.5H349M358 520.5H359M366 520.5H367M372 520.5H373M375 520.5H380M386 520.5H387M391 520.5H392M399 520.5H400M404 520.5H405M209 521.5H210M212 521.5H213M215 521.5H216M220 521.5H221M223 521.5H224M229 521.5H230M241 521.5H242M245 521.5H246M248 521.5H249M252 521.5H253M257 521.5H258M259 521.5H260M277 521.5H278M284 521.5H285M290 521.5H291M294 521.5H295M299 521.5H300M305 521.5H306M310 521.5H311M315 521.5H316M321 521.5H322M326 521.5H327M329 521.5H330M334 521.5H335M339 521.5H340M347 521.5H348M353 521.5H354M358 521.5H359M367 521.5H368M371 521.5H372M379 521.5H380M386 521.5H387M391 521.5H392M393 521.5H394M399 521.5H400M403 521.5H404M203 522.5H204M209 522.5H210M212 522.5H213M216 522.5H217M220 522.5H221M223 522.5H224M229 522.5H230M241 522.5H242M245 522.5H246M248 522.5H249M252 522.5H253M257 522.5H258M260 522.5H261M264 522.5H265M267 522.5H268M277 522.5H278M283 522.5H284M291 522.5H292M294 522.5H295M298 522.5H299M305 522.5H306M310 522.5H311M314 522.5H315M322 522.5H323M325 522.5H326M329 522.5H330M334 522.5H335M338 522.5H339M346 522.5H347M353 522.5H354M358 522.5H359M368 522.5H369M371 522.5H372M374 522.5H375M378 522.5H379M383 522.5H384M387 522.5H388M390 522.5H391M394 522.5H395M398 522.5H399M403 522.5H404M204 523.5H209M212 523.5H215M217 523.5H221M223 523.5H224M229 523.5H231M241 523.5H242M245 523.5H246M248 523.5H249M252 523.5H253M257 523.5H258M261 523.5H264M267 523.5H268M278 523.5H279M282 523.5H288M291 523.5H295M297 523.5H303M306 523.5H310M314 523.5H315M322 523.5H326M329 523.5H334M338 523.5H339M345 523.5H351M353 523.5H358M368 523.5H372M375 523.5H379M382 523.5H384M387 523.5H391M394 523.5H399M403 523.5H404M278 524.5H279M313 524.5H314M337 524.5H338M403 524.5H404M279 525.5H280M313 525.5H314M337 525.5H338M402 525.5H403M279 526.5H280M312 526.5H313M336 526.5H337M401 526.5H402M14 333.5H15M17 333.5H18M14 334.5H15M16 334.5H17M18 334.5H19M13 335.5H14M16 335.5H17M18 335.5H19M13 336.5H14M15 336.5H16M18 336.5H19M14 337.5H16M17 337.5H19M14 339.5H15M16 339.5H19M13 340.5H14M16 340.5H17M18 340.5H19M13 341.5H14M16 341.5H17M18 341.5H19M14 342.5H16M18 342.5H19M14 343.5H15M17 343.5H18M13 345.5H19M13 346.5H15M18 346.5H19M13 347.5H14M18 347.5H19M14 348.5H15M18 348.5H19M14 349.5H18M11 352.5H19M12 354.5H14M16 354.5H18M11 355.5H12M18 355.5H19M11 356.5H12M18 356.5H19M11 357.5H12M18 357.5H19M11 358.5H13M17 358.5H19M13 359.5H17M13 366.5H15M15 367.5H17M17 368.5H19M15 369.5H17M19 369.5H21M13 370.5H15M20 370.5H21M13 372.5H19M13 373.5H15M18 373.5H19M13 374.5H14M18 374.5H19M14 375.5H15M18 375.5H19M14 376.5H18M13 377.5H14M13 378.5H14M14 379.5H15M13 380.5H19M15 383.5H16M15 384.5H16M15 385.5H16M15 386.5H16M15 387.5H16M15 388.5H16M15 389.5H16M11 391.5H12M18 391.5H19M12 392.5H14M16 392.5H18M14 393.5H16M14 394.5H16M12 395.5H14M16 395.5H18M11 396.5H12M18 396.5H19M15 403.5H16M17 403.5H18M14 404.5H16M18 404.5H19M13 405.5H14M15 405.5H16M18 405.5H19M13 406.5H16M18 406.5H19M14 407.5H18M13 409.5H14M13 410.5H15M13 411.5H19M13 414.5H19M14 415.5H15M18 415.5H19M13 416.5H14M18 416.5H19M13 417.5H15M18 417.5H19M14 418.5H18M11 421.5H19M11 422.5H12M11 423.5H12M11 424.5H12M14 424.5H15M11 425.5H12M14 425.5H15M11 426.5H12M14 426.5H15M11 427.5H19M568 311.5H572M576 311.5H577M568 312.5H569M571 312.5H572M574 312.5H576M567 313.5H568M572 313.5H574M567 314.5H568M572 314.5H573M567 315.5H568M572 315.5H573M567 316.5H577M575 318.5H577M573 319.5H575M571 320.5H574M569 321.5H571M573 321.5H574M567 322.5H569M573 322.5H574M569 323.5H572M573 323.5H574M572 324.5H575M575 325.5H577M571 334.5H577M570 335.5H571M570 336.5H571M571 337.5H572M570 338.5H577M567 341.5H569M570 341.5H577M567 342.5H568M567 351.5H577M571 352.5H572M576 352.5H577M570 353.5H571M576 353.5H577M570 354.5H571M576 354.5H577M571 355.5H572M576 355.5H577M572 356.5H576M571 359.5H574M575 359.5H577M570 360.5H571M573 360.5H574M576 360.5H577M570 361.5H571M573 361.5H574M576 361.5H577M571 362.5H572M573 362.5H574M576 362.5H577M572 363.5H576M570 366.5H572M572 367.5H575M575 368.5H577M572 369.5H575M570 370.5H572M570 372.5H571M570 373.5H571M571 374.5H572M570 375.5H577M571 378.5H574M575 378.5H576M570 379.5H572M573 379.5H574M576 379.5H577M570 380.5H571M573 380.5H574M576 380.5H577M570 381.5H572M573 381.5H574M576 381.5H577M572 382.5H574M575 382.5H576M573 383.5H575M572 385.5H573M574 385.5H576M571 386.5H572M573 386.5H575M576 386.5H577M570 387.5H571M573 387.5H574M576 387.5H577M570 388.5H571M573 388.5H574M576 388.5H577M571 389.5H573M576 389.5H577M572 390.5H573M575 390.5H576M573 392.5H575M571 393.5H573M575 393.5H577M570 394.5H571M576 394.5H577M570 395.5H571M576 395.5H577M571 396.5H572M576 396.5H577M567 397.5H577M572 400.5H576M571 401.5H572M576 401.5H577M570 402.5H571M576 402.5H577M570 403.5H571M576 403.5H577M571 404.5H572M576 404.5H577M572 405.5H576M572 414.5H573M574 414.5H576M571 415.5H572M573 415.5H575M576 415.5H577M570 416.5H571M573 416.5H574M576 416.5H577M570 417.5H571M573 417.5H574M576 417.5H577M571 418.5H573M576 418.5H577M572 419.5H573M575 419.5H576M572 421.5H574M575 421.5H576M571 422.5H572M573 422.5H574M576 422.5H577M570 423.5H571M573 423.5H574M576 423.5H577M570 424.5H571M573 424.5H574M576 424.5H577M571 425.5H572M573 425.5H574M576 425.5H577M572 426.5H576M570 428.5H571M570 429.5H571M571 430.5H572M570 431.5H577M570 434.5H577M571 435.5H572M576 435.5H577M570 436.5H571M576 436.5H577M570 437.5H571M576 437.5H577M571 438.5H572M576 438.5H577M572 439.5H576M567 442.5H577M567 444.5H568M567 445.5H568M567 446.5H568M572 446.5H573M567 447.5H568M572 447.5H573M567 448.5H568M572 448.5H573M567 449.5H577M42 754.5H47M42 755.5H43M47 755.5H48M42 756.5H43M47 756.5H48M42 757.5H48M42 758.5H43M46 758.5H48M42 759.5H43M47 759.5H48M42 760.5H43M47 760.5H48M42 761.5H47M43 706.5H47M43 707.5H44M47 707.5H48M42 708.5H43M47 708.5H48M42 709.5H43M42 710.5H43M42 711.5H43M47 711.5H48M43 712.5H44M47 712.5H48M43 713.5H47M41 655.5H42M47 655.5H48M41 656.5H42M47 656.5H48M41 657.5H43M46 657.5H48M41 658.5H43M46 658.5H48M41 659.5H42M43 659.5H44M45 659.5H46M47 659.5H48M41 660.5H42M43 660.5H44M45 660.5H46M47 660.5H48M41 661.5H42M44 661.5H45M47 661.5H48M41 662.5H42M44 662.5H45M47 662.5H48M42 604.5H43M47 604.5H48M43 605.5H44M46 605.5H47M43 606.5H44M46 606.5H47M44 607.5H46M44 608.5H46M43 609.5H44M46 609.5H47M43 610.5H44M46 610.5H47M42 611.5H43M47 611.5H48M29 553.5H30M34 553.5H35M38 553.5H39M44 553.5H47M30 554.5H31M33 554.5H34M37 554.5H39M43 554.5H44M47 554.5H48M30 555.5H31M33 555.5H34M38 555.5H39M42 555.5H43M47 555.5H48M31 556.5H33M38 556.5H39M42 556.5H43M47 556.5H48M31 557.5H33M38 557.5H39M42 557.5H43M47 557.5H48M30 558.5H31M33 558.5H34M38 558.5H39M43 558.5H44M47 558.5H48M30 559.5H31M33 559.5H34M38 559.5H39M43 559.5H44M47 559.5H48M29 560.5H30M34 560.5H35M38 560.5H39M44 560.5H47M139 768.5H140M121 769.5H125M127 769.5H132M138 769.5H139M142 769.5H146M149 769.5H153M120 770.5H121M124 770.5H125M127 770.5H128M131 770.5H132M138 770.5H139M141 770.5H143M145 770.5H146M148 770.5H149M152 770.5H153M120 771.5H121M125 771.5H126M127 771.5H128M131 771.5H132M137 771.5H138M141 771.5H142M145 771.5H146M148 771.5H149M120 772.5H121M125 772.5H126M128 772.5H131M137 772.5H138M145 772.5H146M148 772.5H152M120 773.5H121M125 773.5H126M127 773.5H128M131 773.5H132M136 773.5H137M144 773.5H145M148 773.5H149M152 773.5H153M120 774.5H121M124 774.5H125M127 774.5H128M131 774.5H132M135 774.5H136M143 774.5H144M148 774.5H149M152 774.5H153M120 775.5H121M124 775.5H125M127 775.5H128M131 775.5H132M135 775.5H136M142 775.5H143M148 775.5H149M152 775.5H153M121 776.5H125M127 776.5H132M134 776.5H135M141 776.5H147M149 776.5H152M134 777.5H135M133 778.5H134M236 768.5H237M218 769.5H222M224 769.5H229M235 769.5H236M239 769.5H243M246 769.5H249M217 770.5H218M221 770.5H222M224 770.5H225M228 770.5H229M235 770.5H236M238 770.5H240M242 770.5H243M245 770.5H246M249 770.5H250M217 771.5H218M222 771.5H223M224 771.5H225M228 771.5H229M234 771.5H235M238 771.5H239M242 771.5H243M245 771.5H246M249 771.5H250M217 772.5H218M222 772.5H223M225 772.5H228M234 772.5H235M242 772.5H243M245 772.5H246M249 772.5H250M217 773.5H218M222 773.5H223M224 773.5H225M228 773.5H229M233 773.5H234M241 773.5H242M246 773.5H250M217 774.5H218M221 774.5H222M224 774.5H225M228 774.5H229M232 774.5H233M240 774.5H241M249 774.5H250M217 775.5H218M221 775.5H222M224 775.5H225M228 775.5H229M232 775.5H233M239 775.5H240M245 775.5H246M249 775.5H250M218 776.5H222M224 776.5H229M231 776.5H232M238 776.5H244M245 776.5H249M231 777.5H232M230 778.5H231M335 768.5H336M317 769.5H321M324 769.5H327M334 769.5H335M338 769.5H342M346 769.5H347M316 770.5H317M320 770.5H321M323 770.5H324M327 770.5H328M334 770.5H335M337 770.5H338M341 770.5H342M345 770.5H347M316 771.5H317M321 771.5H322M323 771.5H324M327 771.5H328M333 771.5H334M337 771.5H338M342 771.5H343M346 771.5H347M316 772.5H317M321 772.5H322M323 772.5H324M327 772.5H328M333 772.5H334M337 772.5H338M342 772.5H343M346 772.5H347M316 773.5H317M321 773.5H322M324 773.5H328M332 773.5H333M337 773.5H338M342 773.5H343M346 773.5H347M316 774.5H317M320 774.5H321M327 774.5H328M331 774.5H332M337 774.5H338M341 774.5H342M346 774.5H347M316 775.5H317M320 775.5H321M323 775.5H324M327 775.5H328M331 775.5H332M337 775.5H338M341 775.5H342M346 775.5H347M317 776.5H321M323 776.5H327M330 776.5H331M338 776.5H342M346 776.5H347M330 777.5H331M329 778.5H330M431 768.5H432M413 769.5H417M420 769.5H423M430 769.5H431M434 769.5H438M443 769.5H444M412 770.5H413M416 770.5H417M419 770.5H420M423 770.5H424M430 770.5H431M433 770.5H434M437 770.5H438M442 770.5H444M412 771.5H413M417 771.5H418M419 771.5H420M423 771.5H424M429 771.5H430M433 771.5H434M438 771.5H439M442 771.5H444M412 772.5H413M417 772.5H418M419 772.5H420M423 772.5H424M429 772.5H430M433 772.5H434M438 772.5H439M441 772.5H442M443 772.5H444M412 773.5H413M417 773.5H418M420 773.5H424M428 773.5H429M433 773.5H434M438 773.5H439M441 773.5H442M443 773.5H444M412 774.5H413M416 774.5H417M423 774.5H424M427 774.5H428M433 774.5H434M437 774.5H438M440 774.5H446M412 775.5H413M416 775.5H417M419 775.5H420M423 775.5H424M427 775.5H428M433 775.5H434M437 775.5H438M443 775.5H444M413 776.5H417M419 776.5H423M426 776.5H427M434 776.5H438M443 776.5H444M426 777.5H427M425 778.5H426M528 768.5H529M510 769.5H514M517 769.5H520M527 769.5H528M531 769.5H535M537 769.5H542M509 770.5H510M513 770.5H514M516 770.5H517M520 770.5H521M527 770.5H528M530 770.5H531M534 770.5H535M541 770.5H542M509 771.5H510M514 771.5H515M516 771.5H517M520 771.5H521M526 771.5H527M530 771.5H531M535 771.5H536M540 771.5H541M509 772.5H510M514 772.5H515M516 772.5H517M520 772.5H521M526 772.5H527M530 772.5H531M535 772.5H536M540 772.5H541M509 773.5H510M514 773.5H515M517 773.5H521M525 773.5H526M530 773.5H531M535 773.5H536M539 773.5H540M509 774.5H510M513 774.5H514M520 774.5H521M524 774.5H525M530 774.5H531M534 774.5H535M539 774.5H540M509 775.5H510M513 775.5H514M516 775.5H517M520 775.5H521M524 775.5H525M530 775.5H531M534 775.5H535M538 775.5H539M510 776.5H514M516 776.5H520M523 776.5H524M531 776.5H535M538 776.5H539M523 777.5H524M522 778.5H523M14 599.5H15M17 599.5H18M14 600.5H15M16 600.5H17M18 600.5H19M13 601.5H14M16 601.5H17M18 601.5H19M13 602.5H14M15 602.5H16M18 602.5H19M14 603.5H16M17 603.5H19M14 605.5H15M16 605.5H19M13 606.5H14M16 606.5H17M18 606.5H19M13 607.5H14M16 607.5H17M18 607.5H19M14 608.5H16M18 608.5H19M14 609.5H15M17 609.5H18M13 611.5H19M13 612.5H15M18 612.5H19M13 613.5H14M18 613.5H19M14 614.5H15M18 614.5H19M14 615.5H18M11 617.5H19M12 620.5H14M16 620.5H18M11 621.5H12M18 621.5H19M11 622.5H12M18 622.5H19M11 623.5H12M18 623.5H19M11 624.5H13M17 624.5H19M13 625.5H17M13 632.5H15M15 633.5H17M17 634.5H19M15 635.5H17M19 635.5H21M13 636.5H15M20 636.5H21M13 638.5H19M13 639.5H15M18 639.5H19M13 640.5H14M18 640.5H19M14 641.5H15M18 641.5H19M14 642.5H18M13 643.5H14M13 644.5H14M14 645.5H15M13 646.5H19M15 649.5H16M15 650.5H16M15 651.5H16M15 652.5H16M15 653.5H16M15 654.5H16M15 655.5H16M11 657.5H12M18 657.5H19M12 658.5H14M16 658.5H18M14 659.5H16M14 660.5H16M12 661.5H14M16 661.5H18M11 662.5H12M18 662.5H19M12 669.5H13M16 669.5H18M11 670.5H12M15 670.5H16M18 670.5H19M11 671.5H12M15 671.5H16M18 671.5H19M11 672.5H12M15 672.5H16M18 672.5H19M11 673.5H12M14 673.5H15M18 673.5H19M12 674.5H14M17 674.5H18M11 676.5H12M18 676.5H19M11 677.5H12M14 677.5H15M18 677.5H19M11 678.5H12M14 678.5H15M18 678.5H19M11 679.5H12M14 679.5H15M18 679.5H19M11 680.5H19M12 683.5H18M11 684.5H12M18 684.5H19M11 685.5H12M18 685.5H19M11 686.5H12M18 686.5H19M11 687.5H13M17 687.5H19M13 688.5H17M12 690.5H14M15 690.5H18M11 691.5H12M15 691.5H16M18 691.5H19M11 692.5H12M15 692.5H16M18 692.5H19M11 693.5H12M18 693.5H19M11 694.5H13M17 694.5H19M13 695.5H17M481 783.5H487M528 783.5H529M536 783.5H537M554 783.5H555M559 783.5H560M562 783.5H568M569 783.5H570M575 783.5H576M579 783.5H582M481 784.5H482M486 784.5H487M528 784.5H529M536 784.5H537M554 784.5H555M559 784.5H560M562 784.5H563M569 784.5H570M575 784.5H576M578 784.5H579M582 784.5H583M481 785.5H482M486 785.5H487M489 785.5H493M494 785.5H498M500 785.5H504M507 785.5H511M513 785.5H517M518 785.5H522M525 785.5H529M536 785.5H540M542 785.5H543M547 785.5H548M554 785.5H555M559 785.5H560M562 785.5H563M569 785.5H570M575 785.5H576M577 785.5H578M583 785.5H584M481 786.5H487M489 786.5H490M493 786.5H494M497 786.5H498M500 786.5H501M504 786.5H505M506 786.5H507M510 786.5H511M513 786.5H514M518 786.5H519M521 786.5H523M524 786.5H525M528 786.5H529M536 786.5H537M540 786.5H541M542 786.5H543M546 786.5H547M554 786.5H560M562 786.5H566M569 786.5H570M575 786.5H576M577 786.5H578M583 786.5H584M481 787.5H482M489 787.5H490M493 787.5H498M500 787.5H501M504 787.5H505M506 787.5H507M510 787.5H511M513 787.5H514M517 787.5H523M524 787.5H525M528 787.5H529M536 787.5H537M541 787.5H542M543 787.5H544M546 787.5H547M554 787.5H555M559 787.5H560M562 787.5H563M569 787.5H570M575 787.5H576M577 787.5H578M583 787.5H584M481 788.5H482M489 788.5H490M493 788.5H494M500 788.5H501M504 788.5H505M506 788.5H507M510 788.5H511M513 788.5H514M517 788.5H518M524 788.5H525M528 788.5H529M536 788.5H537M541 788.5H542M543 788.5H544M545 788.5H546M554 788.5H555M559 788.5H560M562 788.5H563M569 788.5H570M575 788.5H576M578 788.5H579M582 788.5H583M481 789.5H482M489 789.5H490M493 789.5H494M497 789.5H498M500 789.5H501M504 789.5H505M506 789.5H507M510 789.5H511M513 789.5H514M518 789.5H519M522 789.5H523M524 789.5H525M528 789.5H529M536 789.5H537M540 789.5H541M544 789.5H546M554 789.5H555M559 789.5H560M562 789.5H563M569 789.5H570M575 789.5H576M578 789.5H579M582 789.5H583M481 790.5H482M489 790.5H490M494 790.5H498M500 790.5H504M507 790.5H511M513 790.5H514M518 790.5H522M525 790.5H529M536 790.5H540M544 790.5H545M554 790.5H555M559 790.5H560M562 790.5H568M569 790.5H574M575 790.5H576M579 790.5H582M500 791.5H501M544 791.5H545M500 792.5H501M542 792.5H544" stroke="#000"/>
<path d="M584 83.5H585M586 83.5H589M583 84.5H584M586 84.5H587M588 84.5H589M583 85.5H584M585 85.5H586M588 85.5H589M584 86.5H586M587 86.5H589M584 88.5H585M587 88.5H588M584 89.5H585M586 89.5H587M588 89.5H589M583 90.5H584M586 90.5H587M588 90.5H589M583 91.5H584M585 91.5H586M588 91.5H589M584 92.5H586M587 92.5H589M583 95.5H589M583 96.5H584M588 96.5H589M583 97.5H584M588 97.5H589M584 98.5H585M587 98.5H589M585 99.5H587M581 101.5H589M583 103.5H584M586 103.5H587M581 104.5H583M587 104.5H589M581 105.5H582M588 105.5H589M581 106.5H582M588 106.5H589M581 107.5H582M588 107.5H589M582 108.5H588M587 116.5H589M588 117.5H589M583 119.5H590M584 120.5H585M588 120.5H589M590 120.5H591M583 121.5H584M588 121.5H589M590 121.5H591M583 122.5H585M588 122.5H589M590 122.5H591M584 123.5H588M583 126.5H589M583 127.5H585M588 127.5H589M583 128.5H584M588 128.5H589M584 129.5H585M588 129.5H589M584 130.5H588M581 132.5H589M583 133.5H585M585 134.5H587M587 135.5H589M585 136.5H587M583 137.5H585M581 138.5H589M561 58.5H564M560 59.5H561M563 59.5H564M560 60.5H561M563 60.5H564M560 61.5H563M559 62.5H560M563 62.5H564M559 63.5H560M563 63.5H564M559 64.5H560M563 64.5H564M559 65.5H563M559 66.5H560M559 67.5H560M559 68.5H560M566 60.5H567M570 60.5H571M565 61.5H566M567 61.5H568M570 61.5H571M568 62.5H569M570 62.5H571M568 63.5H570M567 64.5H569M567 65.5H568M567 66.5H568M566 67.5H567M566 68.5H567M574 58.5H578M573 59.5H575M573 60.5H574M575 60.5H576M572 61.5H573M576 61.5H577M572 62.5H573M577 62.5H578M572 63.5H573M577 63.5H578M573 64.5H574M576 64.5H577M574 65.5H576M561 82.5H564M560 83.5H561M563 83.5H564M560 84.5H561M563 84.5H564M560 85.5H563M559 86.5H560M563 86.5H564M559 87.5H560M563 87.5H564M559 88.5H560M563 88.5H564M559 89.5H563M559 90.5H560M559 91.5H560M559 92.5H560M568 82.5H572M567 83.5H569M567 84.5H568M569 84.5H570M566 85.5H567M570 85.5H571M566 86.5H567M571 86.5H572M566 87.5H567M571 87.5H572M567 88.5H568M570 88.5H571M568 89.5H570M561 106.5H564M560 107.5H561M563 107.5H564M560 108.5H561M563 108.5H564M560 109.5H563M559 110.5H560M563 110.5H564M559 111.5H560M563 111.5H564M559 112.5H560M563 112.5H564M559 113.5H563M559 114.5H560M559 115.5H560M559 116.5H560M566 108.5H567M570 108.5H571M565 109.5H566M567 109.5H568M570 109.5H571M568 110.5H569M570 110.5H571M568 111.5H570M567 112.5H569M567 113.5H568M567 114.5H568M566 115.5H567M566 116.5H567M561 129.5H564M560 130.5H561M563 130.5H564M560 131.5H561M563 131.5H564M560 132.5H563M559 133.5H560M563 133.5H564M559 134.5H560M563 134.5H564M559 135.5H560M563 135.5H564M559 136.5H563M559 137.5H560M559 138.5H560M559 139.5H560M561 155.5H563M564 155.5H565M560 156.5H561M562 156.5H563M564 156.5H565M559 157.5H560M562 157.5H563M564 157.5H565M559 158.5H560M562 158.5H564M559 159.5H560M561 159.5H563M559 160.5H562M563 160.5H565" stroke="#00f"/>
<path d="M562 280.5H566M568 280.5H569M574 280.5H575M577 280.5H582M562 281.5H563M566 281.5H567M568 281.5H569M574 281.5H575M577 281.5H578M561 282.5H562M566 282.5H567M568 282.5H570M573 282.5H575M577 282.5H578M584 282.5H586M561 283.5H562M568 283.5H570M573 283.5H575M577 283.5H580M583 283.5H584M586 283.5H587M561 284.5H562M568 284.5H569M570 284.5H571M572 284.5H573M574 284.5H575M577 284.5H578M583 284.5H585M561 285.5H562M566 285.5H567M568 285.5H569M570 285.5H571M572 285.5H573M574 285.5H575M577 285.5H578M585 285.5H587M562 286.5H563M566 286.5H567M568 286.5H569M571 286.5H572M574 286.5H575M577 286.5H578M583 286.5H584M586 286.5H587M562 287.5H566M568 287.5H569M571 287.5H572M574 287.5H575M577 287.5H582M583 287.5H587" stroke="#f00"/>
<g aria-hidden="false"><text x="74" y="34" textLength="21" font-size="8">-90</text>
<text x="147" y="34" textLength="21" font-size="8">-60</text>
<text x="220" y="34" textLength="21" font-size="8">-30</text>
<text x="300" y="34" textLength="6" font-size="8">0</text>
<text x="370" y="34" textLength="12" font-size="8">30</text>
<text x="444" y="34" textLength="12" font-size="8">60</text>
<text x="516" y="34" textLength="12" font-size="8">90</text>
<text x="42" y="228" textLength="6" font-size="8">0</text>
<text x="30" y="185" textLength="18" font-size="8">100</text>
<text x="29" y="137" textLength="19" font-size="8">200</text>
<text x="29" y="90" textLength="19" font-size="8">300</text>
<text x="29" y="45" textLength="19" font-size="8">400</text>
<text x="266" y="26" textLength="75" font-size="10">NAR Longitude</text>
<text x="466" y="22" textLength="90" font-size="11">Lat: +19.00</text>
<text x="103" y="58" textLength="111" font-size="14">NAR 13416</text>
<text transform="translate(19,158) rotate(-90)" textLength="48" font-size="8">NAR Area</text>
<text transform="translate(591,139) rotate(-90)" textLength="56" font-size="10">Mag. Class</text>
<text x="559" y="69" textLength="19" font-size="11">βγδ</text>
<text x="559" y="93" textLength="13" font-size="11">βδ</text>
<text x="559" y="117" textLength="12" font-size="11">βγ</text>
<text x="559" y="140" textLength="6" font-size="11">β</text>
<text x="559" y="164" textLength="6" font-size="11">α</text>
<text x="120" y="245" textLength="33" font-size="11">08/26</text>
<text x="217" y="245" textLength="33" font-size="11">08/29</text>
<text x="316" y="245" textLength="31" font-size="11">09/01</text>
<text x="412" y="245" textLength="34" font-size="11">09/04</text>
<text x="509" y="245" textLength="33" font-size="11">09/07</text>
<text x="203" y="260" textLength="202" font-size="14">Start Time: (2023/08/23 09:05)</text>
<text x="42" y="495" textLength="6" font-size="8">B</text>
<text x="42" y="448" textLength="6" font-size="8">C</text>
<text x="41" y="397" textLength="7" font-size="8">M</text>
<text x="42" y="346" textLength="6" font-size="8">X</text>
<text x="29" y="295" textLength="19" font-size="8">X10</text>
<text x="120" y="512" textLength="33" font-size="11">08/26</text>
<text x="217" y="512" textLength="33" font-size="11">08/29</text>
<text x="316" y="512" textLength="31" font-size="11">09/01</text>
<text x="412" y="512" textLength="34" font-size="11">09/04</text>
<text x="509" y="512" textLength="33" font-size="11">09/07</text>
<text x="203" y="527" textLength="202" font-size="14">Start Time: (2023/08/23 09:05)</text>
<text transform="translate(21,428) rotate(-90)" textLength="95" font-size="10">Flare X-ray Class</text>
<text x="561" y="288" textLength="26" font-size="8">CMEs</text>
<text transform="translate(577,450) rotate(-90)" textLength="139" font-size="10">Flares observed in AR</text>
<text x="42" y="762" textLength="6" font-size="8">B</text>
<text x="42" y="714" textLength="6" font-size="8">C</text>
<text x="41" y="663" textLength="7" font-size="8">M</text>
<text x="42" y="612" textLength="6" font-size="8">X</text>
<text x="29" y="561" textLength="19" font-size="8">X10</text>
<text x="120" y="779" textLength="33" font-size="11">08/26</text>
<text x="217" y="779" textLength="33" font-size="11">08/29</text>
<text x="316" y="779" textLength="31" font-size="11">09/01</text>
<text x="412" y="779" textLength="34" font-size="11">09/04</text>
<text x="509" y="779" textLength="33" font-size="11">09/07</text>
<text transform="translate(21,696) rotate(-90)" textLength="97" font-size="10">GOES X-ray Class</text>
<text x="481" y="793" textLength="103" font-size="10">Prepared by HELIO</text></g>
</svg>
</body></html>
